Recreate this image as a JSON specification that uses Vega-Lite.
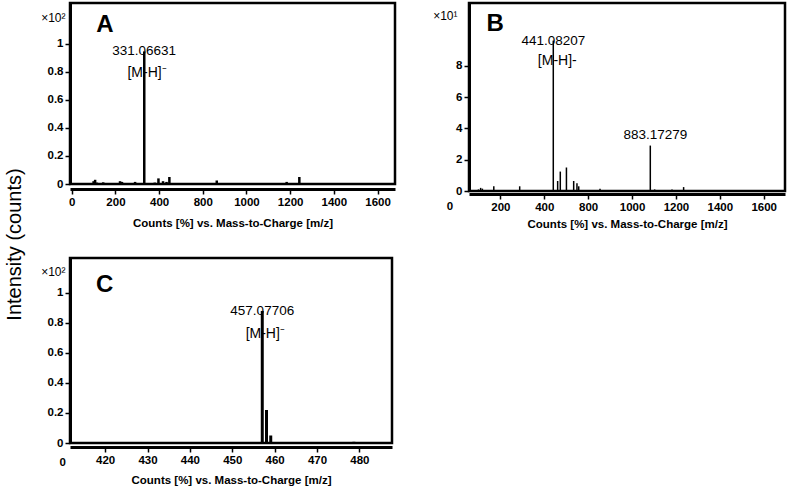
{
  "$schema": "https://vega.github.io/schema/vega-lite/v6.json",
  "background": "white",
  "padding": {"left": 5, "top": 1, "right": 0, "bottom": 0},
  "title": {"text": "Intensity (counts)", "orient": "left", "anchor": "middle", "font": "Liberation Sans", "fontSize": 20, "fontWeight": "normal", "color": "black", "offset": 14},
  "config": {
    "view": {"stroke": "black", "strokeWidth": 2.5},
    "axis": {
      "grid": false,
      "domainColor": "black", "domainWidth": 3,
      "tickColor": "black", "tickWidth": 1.5, "tickSize": 5,
      "labelColor": "black", "labelFont": "Liberation Sans", "labelFontWeight": "bold", "labelFontSize": 11.5, "labelPadding": 2,
      "labelFlush": false, "labelOverlap": false,
      "titleColor": "black"
    },
    "text": {"color": "black"}
  },
  "datasets": {
    "peaksA": [
      {"mz": 100, "intensity": 0.02}, {"mz": 107, "intensity": 0.03}, {"mz": 115, "intensity": 0.01},
      {"mz": 144, "intensity": 0.012}, {"mz": 221, "intensity": 0.02}, {"mz": 230, "intensity": 0.015},
      {"mz": 290, "intensity": 0.015}, {"mz": 332, "intensity": 0.945}, {"mz": 380, "intensity": 0.01},
      {"mz": 397, "intensity": 0.04}, {"mz": 418, "intensity": 0.02}, {"mz": 434, "intensity": 0.015},
      {"mz": 447, "intensity": 0.05}, {"mz": 664, "intensity": 0.025}, {"mz": 984, "intensity": 0.015},
      {"mz": 1042, "intensity": 0.05}
    ],
    "peaksB": [
      {"mz": 100, "intensity": 0.1}, {"mz": 110, "intensity": 0.2}, {"mz": 118, "intensity": 0.15},
      {"mz": 170, "intensity": 0.3}, {"mz": 288, "intensity": 0.3}, {"mz": 441.08, "intensity": 9.6},
      {"mz": 461, "intensity": 0.64}, {"mz": 473, "intensity": 1.24}, {"mz": 501, "intensity": 1.5},
      {"mz": 534, "intensity": 0.64}, {"mz": 549, "intensity": 0.5}, {"mz": 557, "intensity": 0.3},
      {"mz": 654, "intensity": 0.15}, {"mz": 883.17, "intensity": 2.9}, {"mz": 903, "intensity": 0.1},
      {"mz": 982, "intensity": 0.1}, {"mz": 1035, "intensity": 0.25}
    ],
    "peaksC": [
      {"mz": 457.08, "intensity": 0.88}, {"mz": 458.08, "intensity": 0.22},
      {"mz": 459.08, "intensity": 0.05}, {"mz": 478.7, "intensity": 0.008}
    ],
    "notes": [
      {"panel": "A", "mz": 331.06631, "intensity": 0.945, "label": "331.06631", "ion": "[M-H]⁻"},
      {"panel": "B", "mz": 441.08207, "intensity": 9.6, "label": "441.08207", "ion": "[M-H]-"},
      {"panel": "B2", "mz": 883.17279, "intensity": 2.9, "label": "883.17279", "ion": ""},
      {"panel": "C", "mz": 457.07706, "intensity": 0.88, "label": "457.07706", "ion": "[M-H]⁻"}
    ]
  },
  "spacing": 24,
  "vconcat": [
    {
      "spacing": 34,
      "hconcat": [
        {
          "width": 325, "height": 181,
          "layer": [
            {
              "data": {"name": "peaksA"},
              "mark": {"type": "rule", "color": "black", "strokeWidth": 2.5},
              "encoding": {
                "x": {"field": "mz", "type": "quantitative",
                  "scale": {"domain": [-8, 1480], "nice": false, "zero": false},
                  "axis": {"values": [0, 200, 400, 600, 800, 1000, 1200, 1400], "tickCount": 20, "format": "d",
                    "labelExpr": "datum.value <= 400 ? datum.label : '' + (datum.value + 200)",
                    "offset": 5, "title": "Counts [%] vs. Mass-to-Charge [m/z]",
                    "titleFont": "Liberation Sans", "titleFontWeight": "bold", "titleFontSize": 11.5, "titlePadding": 10}},
                "y": {"field": "intensity", "type": "quantitative",
                  "scale": {"domain": [0, 1.29], "nice": false},
                  "axis": {"values": [0, 0.2, 0.4, 0.6, 0.8, 1], "tickCount": 20, "format": ".1~f",
                    "title": "×10²", "titleAngle": 0, "titleAlign": "right", "titleBaseline": "middle",
                    "titleX": -5, "titleY": 14, "titleFont": "Liberation Sans", "titleFontWeight": "normal", "titleFontSize": 12}},
                "y2": {"datum": 0}
              }
            },
            {
              "data": {"name": "notes"},
              "transform": [{"filter": "datum.panel == 'A'"}],
              "mark": {"type": "text", "font": "Liberation Sans", "fontSize": 13.5, "baseline": "middle", "align": "center"},
              "encoding": {"x": {"field": "mz", "type": "quantitative"}, "y": {"field": "intensity", "type": "quantitative"}, "text": {"field": "label"}}
            },
            {
              "data": {"name": "notes"},
              "transform": [{"filter": "datum.panel == 'A'"}],
              "mark": {"type": "text", "font": "Liberation Sans", "fontSize": 14, "baseline": "middle", "align": "center", "dy": 22, "dx": 3},
              "encoding": {"x": {"field": "mz", "type": "quantitative"}, "y": {"field": "intensity", "type": "quantitative"}, "text": {"field": "ion"}}
            },
            {
              "data": {"values": [{"letter": "A"}]},
              "mark": {"type": "text", "font": "Liberation Sans", "fontSize": 24, "fontWeight": "bold", "baseline": "middle", "align": "center"},
              "encoding": {"x": {"datum": 152}, "y": {"datum": 1.136}, "text": {"field": "letter"}}
            }
          ]
        },
        {
          "width": 316, "height": 188,
          "layer": [
            {
              "data": {"name": "peaksB"},
              "mark": {"type": "rule", "color": "black", "strokeWidth": 1.5},
              "encoding": {
                "x": {"field": "mz", "type": "quantitative",
                  "scale": {"domain": [57, 1497], "nice": false, "zero": false},
                  "axis": {"values": [200, 400, 600, 800, 1000, 1200, 1400], "tickCount": 20, "format": "d",
                    "labelExpr": "datum.value <= 400 ? datum.label : '' + (datum.value + 200)",
                    "offset": 3, "title": "Counts [%] vs. Mass-to-Charge [m/z]",
                    "titleFont": "Liberation Sans", "titleFontWeight": "bold", "titleFontSize": 11.5, "titlePadding": 6}},
                "y": {"field": "intensity", "type": "quantitative",
                  "scale": {"domain": [0, 12], "nice": false},
                  "axis": {"values": [0, 2, 4, 6, 8], "tickCount": 20, "format": "d",
                    "title": "×10¹", "titleAngle": 0, "titleAlign": "right", "titleBaseline": "middle",
                    "titleX": -12, "titleY": 12, "titleFont": "Liberation Sans", "titleFontWeight": "normal", "titleFontSize": 12}},
                "y2": {"datum": 0}
              }
            },
            {
              "data": {"values": [{"tick": "0"}]},
              "mark": {"type": "text", "font": "Liberation Sans", "fontSize": 11.5, "fontWeight": "bold", "baseline": "middle", "align": "center", "clip": false},
              "encoding": {"x": {"datum": -30}, "y": {"datum": -1.0}, "text": {"field": "tick"}}
            },
            {
              "data": {"name": "notes"},
              "transform": [{"filter": "datum.panel == 'B'"}],
              "mark": {"type": "text", "font": "Liberation Sans", "fontSize": 13.5, "baseline": "middle", "align": "center"},
              "encoding": {"x": {"field": "mz", "type": "quantitative"}, "y": {"field": "intensity", "type": "quantitative"}, "text": {"field": "label"}}
            },
            {
              "data": {"name": "notes"},
              "transform": [{"filter": "datum.panel == 'B'"}],
              "mark": {"type": "text", "font": "Liberation Sans", "fontSize": 14, "baseline": "middle", "align": "center", "dy": 20, "dx": 4},
              "encoding": {"x": {"field": "mz", "type": "quantitative"}, "y": {"field": "intensity", "type": "quantitative"}, "text": {"field": "ion"}}
            },
            {
              "data": {"name": "notes"},
              "transform": [{"filter": "datum.panel == 'B2'"}],
              "mark": {"type": "text", "font": "Liberation Sans", "fontSize": 13.5, "baseline": "middle", "align": "center", "dy": -11, "dx": 5},
              "encoding": {"x": {"field": "mz", "type": "quantitative"}, "y": {"field": "intensity", "type": "quantitative"}, "text": {"field": "label"}}
            },
            {
              "data": {"values": [{"letter": "B"}]},
              "mark": {"type": "text", "font": "Liberation Sans", "fontSize": 24, "fontWeight": "bold", "baseline": "middle", "align": "center"},
              "encoding": {"x": {"datum": 176}, "y": {"datum": 10.64}, "text": {"field": "letter"}}
            }
          ]
        }
      ]
    },
    {
      "width": 322, "height": 185,
      "layer": [
        {
          "data": {"name": "peaksC"},
          "mark": {"type": "rule", "color": "black", "strokeWidth": 3},
          "encoding": {
            "x": {"field": "mz", "type": "quantitative",
              "scale": {"domain": [411.7, 487.7], "nice": false, "zero": false},
              "axis": {"values": [420, 430, 440, 450, 460, 470, 480], "tickCount": 20, "format": "d",
                "offset": 4, "title": "Counts [%] vs. Mass-to-Charge [m/z]",
                "titleFont": "Liberation Sans", "titleFontWeight": "bold", "titleFontSize": 11.5, "titlePadding": 9}},
            "y": {"field": "intensity", "type": "quantitative",
              "scale": {"domain": [0, 1.233], "nice": false},
              "axis": {"values": [0, 0.2, 0.4, 0.6, 0.8, 1], "tickCount": 20, "format": ".1~f",
                "title": "×10²", "titleAngle": 0, "titleAlign": "right", "titleBaseline": "middle",
                "titleX": -5, "titleY": 13, "titleFont": "Liberation Sans", "titleFontWeight": "normal", "titleFontSize": 12}},
            "y2": {"datum": 0}
          }
        },
        {
          "data": {"values": [{"tick": "0"}]},
          "mark": {"type": "text", "font": "Liberation Sans", "fontSize": 11.5, "fontWeight": "bold", "baseline": "middle", "align": "center", "clip": false},
          "encoding": {"x": {"datum": 410}, "y": {"datum": -0.13}, "text": {"field": "tick"}}
        },
        {
          "data": {"name": "notes"},
          "transform": [{"filter": "datum.panel == 'C'"}],
          "mark": {"type": "text", "font": "Liberation Sans", "fontSize": 13.5, "baseline": "middle", "align": "center"},
          "encoding": {"x": {"field": "mz", "type": "quantitative"}, "y": {"field": "intensity", "type": "quantitative"}, "text": {"field": "label"}}
        },
        {
          "data": {"name": "notes"},
          "transform": [{"filter": "datum.panel == 'C'"}],
          "mark": {"type": "text", "font": "Liberation Sans", "fontSize": 14, "baseline": "middle", "align": "center", "dy": 23, "dx": 3},
          "encoding": {"x": {"field": "mz", "type": "quantitative"}, "y": {"field": "intensity", "type": "quantitative"}, "text": {"field": "ion"}}
        },
        {
          "data": {"values": [{"letter": "C"}]},
          "mark": {"type": "text", "font": "Liberation Sans", "fontSize": 24, "fontWeight": "bold", "baseline": "middle", "align": "center"},
          "encoding": {"x": {"datum": 419.9}, "y": {"datum": 1.053}, "text": {"field": "letter"}}
        }
      ]
    }
  ]
}
